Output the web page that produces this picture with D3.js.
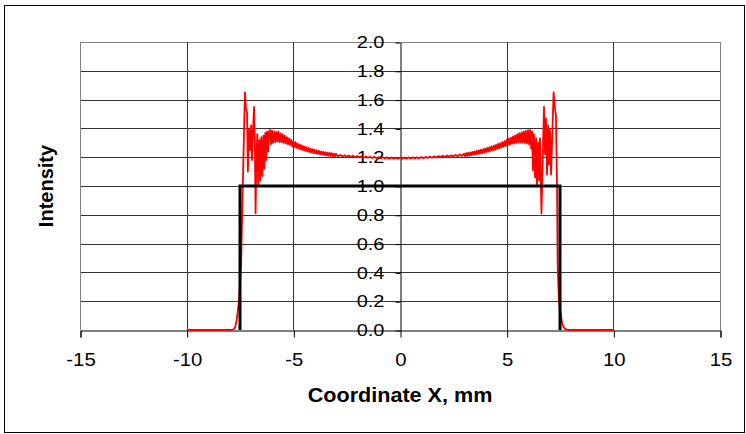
<!DOCTYPE html>
<html>
<head>
<meta charset="utf-8">
<script src="https://cdn.jsdelivr.net/npm/d3@7"></script>
<style>
    body { margin: 0; background: #fff; }
    svg { display: block; }
    .tick-label { font-family: "Liberation Sans", Arial, sans-serif; fill: #000; }
    .axis-title { font-family: "Liberation Sans", Arial, sans-serif; font-size: 20px; font-weight: bold; fill: #000; }
</style>
</head>
<body>
<div id="chart"></div>
<script>
// tick values
const xTicks = [-15, -10, -5, 0, 5, 10, 15];
const yTicks = [0, 0.2, 0.4, 0.6, 0.8, 1.0, 1.2, 1.4, 1.6, 1.8, 2.0];

// ideal profile (black step)
const stepX = [-7.5, -7.5, 7.5, 7.5];
const stepY = [0, 1, 1, 0];

// computed profile (red), left edge
const leftEdgeX = [-10, -7.9, -7.8, -7.73, -7.68, -7.63, -7.55, -7.45, -7.40, -7.36, -7.27, -7.22, -7.17, -7.13,
    -7.08, -7.03, -6.98, -6.94, -6.89, -6.84, -6.80, -6.77, -6.73, -6.69, -6.64, -6.59, -6.55, -6.50,
    -6.45, -6.40, -6.36, -6.31, -6.27, -6.22, -6.18, -6.14];
const leftEdgeY = [0, 0, 0.005, 0.02, 0.05, 0.1, 0.2, 0.45, 0.8, 1.06, 1.65, 1.54, 1.51, 1.10,
    1.39, 1.25, 1.42, 1.18, 1.39, 1.55, 1.25, 0.81, 1.2, 1.36, 1.0, 1.32, 1.04, 1.34,
    1.07, 1.35, 1.12, 1.37, 1.18, 1.38, 1.24, 1.37];

// left shoulder, fine ripple
const leftRippleX = [-6.10, -6.05, -6.00, -5.95, -5.90, -5.85, -5.80, -5.75, -5.70, -5.65, -5.60, -5.55,
    -5.50, -5.45, -5.40, -5.35, -5.30, -5.25, -5.20, -5.15, -5.10, -5.05, -5.00, -4.95, -4.90, -4.85,
    -4.80, -4.75, -4.70, -4.65, -4.60, -4.55, -4.50, -4.45, -4.40, -4.35, -4.30, -4.25, -4.20, -4.15,
    -4.10, -4.05, -4.00, -3.95, -3.90, -3.85, -3.80, -3.75, -3.70, -3.65, -3.60, -3.55, -3.50, -3.45,
    -3.40, -3.35, -3.30, -3.25, -3.20, -3.15, -3.10, -3.05, -3.00];
const leftRippleY = [1.39, 1.29, 1.385, 1.30, 1.38, 1.305, 1.375, 1.31, 1.38, 1.305, 1.365, 1.305,
    1.36, 1.30, 1.35, 1.295, 1.34, 1.29, 1.33, 1.285, 1.32, 1.275, 1.31, 1.27, 1.305, 1.265,
    1.295, 1.26, 1.288, 1.255, 1.282, 1.25, 1.276, 1.244, 1.27, 1.24, 1.264, 1.236, 1.26, 1.232,
    1.256, 1.229, 1.252, 1.226, 1.248, 1.223, 1.244, 1.22, 1.24, 1.218, 1.237, 1.215, 1.234, 1.213,
    1.232, 1.211, 1.23, 1.209, 1.228, 1.207, 1.225, 1.205, 1.223];

// flat centre
const centreX = [-2.9, -2.8, -2.7, -2.6, -2.5, -2.4, -2.3, -2.2, -2.1, -2.0, -1.9, -1.8, -1.7, -1.6, -1.5,
    -1.4, -1.3, -1.2, -1.1, -1.0, -0.9, -0.8, -0.7, -0.6, -0.5, -0.4, -0.3, -0.2, -0.1, 0,
    0.1, 0.2, 0.3, 0.4, 0.5, 0.6, 0.7, 0.8, 0.9, 1.0, 1.1, 1.2, 1.3, 1.4, 1.5,
    1.6, 1.7, 1.8, 1.9, 2.0, 2.1, 2.2, 2.3, 2.4, 2.5, 2.6, 2.7, 2.8, 2.9];
const centreY = [1.206, 1.216, 1.205, 1.214, 1.203, 1.212, 1.202, 1.21, 1.2, 1.208, 1.199, 1.206, 1.197, 1.205, 1.196,
    1.203, 1.194, 1.202, 1.193, 1.201, 1.192, 1.2, 1.191, 1.199, 1.19, 1.198, 1.19, 1.197, 1.189, 1.197,
    1.189, 1.198, 1.19, 1.198, 1.191, 1.199, 1.191, 1.2, 1.192, 1.201, 1.193, 1.202, 1.194, 1.204, 1.196,
    1.206, 1.197, 1.208, 1.199, 1.21, 1.201, 1.212, 1.203, 1.214, 1.205, 1.216, 1.207, 1.219, 1.209];

// right shoulder, fine ripple
const rightRippleX = [3.00, 3.05, 3.10, 3.15, 3.20, 3.25, 3.30, 3.35, 3.40, 3.45, 3.50, 3.55, 3.60, 3.65,
    3.70, 3.75, 3.80, 3.85, 3.90, 3.95, 4.00, 4.05, 4.10, 4.15, 4.20, 4.25, 4.30, 4.35, 4.40, 4.45,
    4.50, 4.55, 4.60, 4.65, 4.70, 4.75, 4.80, 4.85, 4.90, 4.95, 5.00, 5.05, 5.10, 5.15, 5.20, 5.25,
    5.30, 5.35, 5.40, 5.45, 5.50, 5.55, 5.60, 5.65, 5.70, 5.75, 5.80, 5.85, 5.90, 5.95, 6.00, 6.05, 6.10];
const rightRippleY = [1.225, 1.207, 1.228, 1.209, 1.231, 1.211, 1.234, 1.213, 1.237, 1.216, 1.24, 1.219, 1.244, 1.222,
    1.248, 1.225, 1.252, 1.228, 1.256, 1.232, 1.26, 1.236, 1.265, 1.24, 1.27, 1.244, 1.275, 1.248, 1.28, 1.252,
    1.286, 1.257, 1.292, 1.262, 1.298, 1.267, 1.305, 1.272, 1.312, 1.277, 1.32, 1.282, 1.328, 1.287, 1.336, 1.292,
    1.344, 1.296, 1.352, 1.30, 1.36, 1.302, 1.367, 1.303, 1.373, 1.302, 1.378, 1.30, 1.383, 1.295, 1.387, 1.29, 1.39];

// right edge
const rightEdgeX = [6.15, 6.19, 6.23, 6.28, 6.33, 6.38, 6.42, 6.47, 6.52, 6.56, 6.63, 6.70, 6.75, 6.80, 6.84,
    6.89, 6.94, 6.98, 7.03, 7.08, 7.13, 7.20, 7.27, 7.31, 7.36, 7.39, 7.45, 7.55, 7.59, 7.64, 7.73, 7.9, 10];
const rightEdgeY = [1.26, 1.38, 1.11, 1.36, 1.06, 1.33, 1.0, 1.30, 1.04, 1.33, 0.81, 1.25, 1.55, 1.22, 1.47,
    1.08, 1.42, 1.15, 1.39, 1.08, 1.32, 1.65, 1.53, 1.49, 1.0, 0.45, 0.2, 0.10, 0.055, 0.03, 0.007, 0, 0];

const W = 746, H = 434;
const plot = { left: 80, right: 720, top: 42, bottom: 330 };

const svg = d3.select("#chart")
    .append("svg")
    .attr("width", W)
    .attr("height", H);

// outer frame
svg.append("rect")
    .attr("x", 4.5).attr("y", 5.5)
    .attr("width", 740).attr("height", 427)
    .attr("fill", "none")
    .attr("stroke", "#000");

const x = d3.scaleLinear().domain([-15, 15]).range([plot.left, plot.right]);
const y = d3.scaleLinear().domain([0, 2]).range([plot.bottom, plot.top]);

const px = v => Math.round(v) + 0.5;

// horizontal gridlines
svg.append("g").selectAll("line")
    .data(yTicks.filter(d => d > 0))
    .join("line")
    .attr("x1", plot.left).attr("x2", plot.right)
    .attr("y1", d => px(y(d))).attr("y2", d => px(y(d)))
    .attr("stroke", d => d === 2 ? "#808080" : "#333");

// vertical gridlines
svg.append("g").selectAll("line")
    .data(xTicks.filter(d => d !== 0))
    .join("line")
    .attr("x1", d => px(x(d))).attr("x2", d => px(x(d)))
    .attr("y1", plot.top).attr("y2", plot.bottom)
    .attr("stroke", d => Math.abs(d) === 15 ? "#808080" : "#333");

// x axis
const xAxis = svg.append("g")
    .attr("transform", `translate(0.5, ${px(y(0))})`)
    .call(d3.axisBottom(x).tickValues(xTicks).tickSize(7).tickFormat(d => String(d)));
xAxis.select(".domain").attr("stroke", "#000");
xAxis.selectAll("text")
    .attr("class", "tick-label")
    .attr("font-size", null).attr("font-family", null)
    .style("font-size", "18px")
    .attr("y", 0).attr("dy", null)
    .attr("transform", "translate(0, 35) scale(1.13, 1)");

// y axis crossing at x = 0
const yAxis = svg.append("g")
    .attr("transform", `translate(${px(x(0))}, 0.5)`)
    .call(d3.axisLeft(y).tickValues(yTicks).tickSize(5).tickSizeOuter(0).tickFormat(d3.format(".1f")));
yAxis.selectAll("text")
    .attr("class", "tick-label")
    .attr("font-size", null).attr("font-family", null)
    .style("font-size", "16px")
    .attr("x", 0)
    .attr("transform", "translate(-16, 0) scale(1.25, 1)");

// axis titles
svg.append("text")
    .attr("class", "axis-title")
    .attr("transform", `translate(${x(0)}, 402) scale(1.08, 1)`)
    .attr("text-anchor", "middle")
    .text("Coordinate X, mm");

svg.append("text")
    .attr("class", "axis-title")
    .attr("transform", `translate(53, ${y(1.0)}) rotate(-90)`)
    .attr("text-anchor", "middle")
    .text("Intensity");

// series
const redX = leftEdgeX.concat(leftRippleX, centreX, rightRippleX, rightEdgeX);
const redY = leftEdgeY.concat(leftRippleY, centreY, rightRippleY, rightEdgeY);
const redData = redX.map((v, i) => [v, redY[i]]);
const stepData = stepX.map((v, i) => [v, stepY[i]]);

const line = d3.line().x(d => x(d[0])).y(d => y(d[1]));

svg.append("path")
    .datum(redData)
    .attr("d", line)
    .attr("fill", "none")
    .attr("stroke", "#ff0000")
    .attr("stroke-width", 1.8)
    .attr("stroke-linejoin", "round");

svg.append("path")
    .datum(stepData)
    .attr("d", line)
    .attr("fill", "none")
    .attr("stroke", "#000")
    .attr("stroke-width", 3)
    .attr("stroke-linejoin", "miter");
</script>
</body>
</html>
